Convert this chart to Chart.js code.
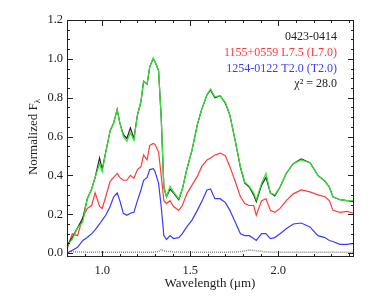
<!DOCTYPE html>
<html>
<head>
<meta charset="utf-8">
<script src="https://cdn.jsdelivr.net/npm/chart.js@4.4.1/dist/chart.umd.min.js"></script>
<style>
  html, body { margin: 0; padding: 0; background: #fff; }
  #wrap { width: 374px; height: 299px; }
</style>
</head>
<body>
<div id="wrap"><canvas id="spec"></canvas></div>
<script>
/* Spectral standard fit: 0423-0414 vs L7.5 + T2.0 composite. */

const WAVE = [0.80, 0.83, 0.86, 0.89, 0.915, 0.94, 0.96, 0.985, 1.00, 1.02, 1.045, 1.065, 1.085, 1.10,
  1.12, 1.14, 1.16, 1.18, 1.20, 1.22, 1.235, 1.255, 1.27, 1.29, 1.30, 1.32, 1.335, 1.35, 1.365, 1.385,
  1.405, 1.435, 1.455, 1.48, 1.51, 1.54, 1.565, 1.595, 1.615, 1.64, 1.67, 1.70, 1.725, 1.755, 1.785,
  1.81, 1.835, 1.86, 1.875, 1.905, 1.93, 1.955, 1.98, 2.01, 2.045, 2.085, 2.13, 2.18, 2.225, 2.265,
  2.29, 2.31, 2.35, 2.39, 2.43];

const TARGET = [0.04, 0.08, 0.13, 0.18, 0.28, 0.33, 0.39, 0.49, 0.43, 0.52, 0.63, 0.67, 0.74, 0.67,
  0.61, 0.59, 0.645, 0.59, 0.71, 0.78, 0.885, 0.87, 0.96, 1.00, 0.985, 0.94, 0.70, 0.34, 0.29, 0.33,
  0.31, 0.275, 0.33, 0.43, 0.53, 0.66, 0.74, 0.815, 0.84, 0.80, 0.81, 0.77, 0.71, 0.58, 0.44,
  0.36, 0.34, 0.30, 0.265, 0.35, 0.39, 0.31, 0.295, 0.34, 0.41, 0.46, 0.485, 0.465, 0.40, 0.37,
  0.34, 0.29, 0.275, 0.27, 0.265];

const COMPOSITE = [0.04, 0.07, 0.13, 0.16, 0.28, 0.33, 0.39, 0.46, 0.42, 0.52, 0.63, 0.67, 0.74, 0.67,
  0.60, 0.575, 0.62, 0.58, 0.71, 0.78, 0.885, 0.87, 0.96, 1.005, 0.985, 0.94, 0.70, 0.34, 0.29, 0.345,
  0.315, 0.28, 0.33, 0.43, 0.53, 0.66, 0.74, 0.815, 0.845, 0.805, 0.81, 0.775, 0.71, 0.58, 0.445,
  0.365, 0.345, 0.31, 0.275, 0.36, 0.41, 0.31, 0.30, 0.34, 0.41, 0.46, 0.48, 0.465, 0.40, 0.37,
  0.34, 0.29, 0.275, 0.27, 0.27];

const L75 = [0.02, 0.10, 0.09, 0.185, 0.23, 0.245, 0.31, 0.24, 0.23, 0.29, 0.37, 0.39, 0.41, 0.39,
  0.375, 0.375, 0.40, 0.385, 0.43, 0.445, 0.505, 0.48, 0.555, 0.565, 0.56, 0.52, 0.40, 0.27, 0.255, 0.27,
  0.24, 0.22, 0.245, 0.305, 0.35, 0.395, 0.445, 0.48, 0.49, 0.505, 0.515, 0.50, 0.445, 0.37, 0.29,
  0.255, 0.245, 0.245, 0.195, 0.27, 0.28, 0.22, 0.21, 0.23, 0.27, 0.305, 0.325, 0.315, 0.30, 0.29,
  0.27, 0.22, 0.21, 0.215, 0.205];

const T20 = [0.00, 0.015, 0.03, 0.065, 0.08, 0.10, 0.12, 0.15, 0.17, 0.195, 0.24, 0.29, 0.31, 0.27,
  0.205, 0.195, 0.205, 0.21, 0.27, 0.325, 0.375, 0.39, 0.43, 0.435, 0.42, 0.36, 0.24, 0.09, 0.07, 0.09,
  0.075, 0.08, 0.10, 0.135, 0.17, 0.22, 0.265, 0.325, 0.33, 0.28, 0.28, 0.26, 0.22, 0.16, 0.10,
  0.09, 0.09, 0.075, 0.065, 0.10, 0.10, 0.075, 0.08, 0.10, 0.125, 0.15, 0.155, 0.135, 0.09, 0.08,
  0.065, 0.06, 0.045, 0.045, 0.05];

const NOISE = [0.01, 0.008, 0.006, 0.006, 0.005, 0.005, 0.005, 0.006, 0.005, 0.005, 0.005, 0.005, 0.005, 0.005,
  0.005, 0.005, 0.005, 0.005, 0.005, 0.005, 0.005, 0.005, 0.005, 0.005, 0.006, 0.008, 0.018, 0.012, 0.009, 0.008,
  0.006, 0.006, 0.005, 0.005, 0.005, 0.005, 0.005, 0.005, 0.005, 0.005, 0.005, 0.005, 0.005, 0.006, 0.008,
  0.012, 0.016, 0.014, 0.012, 0.009, 0.006, 0.005, 0.005, 0.005, 0.005, 0.005, 0.005, 0.005, 0.005, 0.005,
  0.005, 0.005, 0.005, 0.005, 0.005];

const X_LABELS = [1.0, 1.5, 2.0];
const Y_LABELS = [0.0, 0.2, 0.4, 0.6, 0.8, 1.0, 1.2];

const LEGEND = [
  { text: '0423-0414', color: '#222222' },
  { text: '1155+0559 L7.5 (L7.0)', color: '#ff3b3b' },
  { text: '1254-0122 T2.0 (T2.0)', color: '#3b3bff' },
  { text: '\u03C7\u00B2 = 28.0', color: '#222222' },
];

const SERIF = '"Liberation Serif", "DejaVu Serif", serif';

const pts = (ys) => WAVE.map((x, i) => ({ x, y: ys[i] }));

function line(label, ys, colour, order, extra) {
  return Object.assign({
    label,
    data: pts(ys),
    borderColor: colour,
    borderWidth: 1.2,
    pointRadius: 0,
    tension: 0,
    fill: false,
    order,
  }, extra || {});
}

// inward tick marks on all four sides plus frame, titles and the text block
const decor = {
  id: 'decor',
  afterDatasetsDraw(chart) {
    const { ctx, chartArea: a, scales: { x, y } } = chart;
    ctx.save();
    ctx.strokeStyle = '#222';
    ctx.lineWidth = 1;
    ctx.strokeRect(a.left + 0.5, a.top + 0.5, a.right - a.left - 1, a.bottom - a.top - 1);
    ctx.beginPath();
    for (let i = 8; i <= 24; i++) {
      const v = i / 10;
      const px = Math.round(x.getPixelForValue(v)) + 0.5;
      if (px < a.left || px > a.right) continue;
      const len = (i % 5 === 0) ? 6 : 3;
      ctx.moveTo(px, a.bottom); ctx.lineTo(px, a.bottom - len);
      ctx.moveTo(px, a.top); ctx.lineTo(px, a.top + len);
    }
    for (let i = 0; i <= 24; i++) {
      const v = i * 0.05;
      const py = Math.round(y.getPixelForValue(v)) + 0.5;
      const len = (i % 4 === 0) ? 6 : 3;
      ctx.moveTo(a.left, py); ctx.lineTo(a.left + len, py);
      ctx.moveTo(a.right, py); ctx.lineTo(a.right - len, py);
    }
    ctx.stroke();

    // text block, upper right
    ctx.font = '12px ' + SERIF;
    ctx.textAlign = 'right';
    ctx.textBaseline = 'alphabetic';
    const base = [40, 56, 72, 87];
    LEGEND.forEach((l, i) => {
      ctx.fillStyle = l.color;
      ctx.fillText(l.text, 337, base[i]);
    });

    // x title
    ctx.fillStyle = '#222';
    ctx.font = '13px ' + SERIF;
    ctx.textAlign = 'center';
    ctx.textBaseline = 'middle';
    ctx.fillText('Wavelength (\u03BCm)', 210, 284);

    // y title with subscript lambda
    ctx.translate(33, 137);
    ctx.rotate(-Math.PI / 2);
    ctx.font = '13px ' + SERIF;
    const main = 'Normalized F';
    const wMain = ctx.measureText(main).width;
    ctx.font = '9px ' + SERIF;
    const wSub = ctx.measureText('\u03BB').width;
    const start = -(wMain + wSub) / 2;
    ctx.textAlign = 'left';
    ctx.textBaseline = 'alphabetic';
    ctx.font = '13px ' + SERIF;
    ctx.fillText(main, start, 4);
    ctx.font = '9px ' + SERIF;
    ctx.fillText('\u03BB', start + wMain, 7);
    ctx.restore();
  },
};

new Chart(document.getElementById('spec'), {
  type: 'line',
  data: {
    datasets: [
      line('0423-0414 fit', COMPOSITE, '#33e633', 1),
      line('0423-0414', TARGET, '#262626', 2),
      line('1155+0559 L7.5', L75, '#ff3b3b', 3),
      line('1254-0122 T2.0', T20, '#3b3bff', 4),
      line('noise', NOISE, '#8c8c8c', 5, { borderDash: [1, 1], borderWidth: 1.5 }),
    ],
  },
  options: {
    responsive: true,
    maintainAspectRatio: false,
    animation: false,
    layout: { padding: { top: 20, right: 20, left: 0, bottom: 0 } },
    plugins: {
      legend: { display: false },
      tooltip: { enabled: false },
    },
    scales: {
      x: {
        type: 'linear',
        min: 0.8,
        max: 2.43,
        border: { display: false },
        grid: { display: false, drawTicks: false },
        afterBuildTicks: s => { s.ticks = X_LABELS.map(v => ({ value: v })); },
        afterFit: s => { s.height = 42; },
        ticks: {
          padding: 6,
          color: '#222',
          font: { family: SERIF, size: 12.5 },
          callback: v => Number(v).toFixed(1),
        },
      },
      y: {
        min: -0.02,
        max: 1.2,
        border: { display: false },
        grid: { display: false, drawTicks: false },
        afterBuildTicks: s => { s.ticks = Y_LABELS.map(v => ({ value: v })); },
        afterFit: s => { s.width = 67; },
        ticks: {
          padding: 4,
          color: '#222',
          font: { family: SERIF, size: 12.5 },
          callback: v => Number(v).toFixed(1),
        },
      },
    },
  },
  plugins: [decor],
});
</script>
</body>
</html>
